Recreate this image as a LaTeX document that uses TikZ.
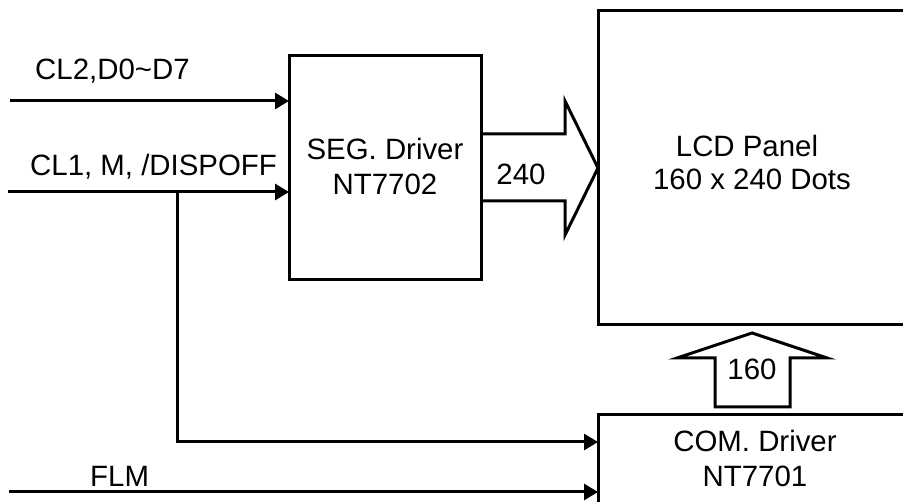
\documentclass[tikz,border=0pt]{standalone}
\usepackage{fontspec}
\setmainfont{Liberation Sans}
\usetikzlibrary{arrows.meta}
\begin{document}
\begin{tikzpicture}[x=1pt,y=-1pt,
  lw/.style={line width=3pt},
  box/.style={draw,lw,rectangle,inner sep=0pt,outer sep=0pt},
  lbl/.style={font=\fontsize{29.4}{34}\selectfont,inner sep=0pt},
  sig/.style={lw,-{Triangle[length=14pt,width=16pt]}},
  fat/.style={lw,line join=miter}]
\useasboundingbox (0,0) rectangle (903,502);
\clip (0,0) rectangle (903,502);
% boxes
\node[box,minimum width=192pt,minimum height=224pt] (seg) at (385,168) {};
\node[box,minimum width=322pt,minimum height=314pt] (lcd) at (759,168) {};
\node[box,minimum width=322pt,minimum height=110pt] (com) at (759,470) {};
% box texts
\node[lbl,anchor=base] (segt1) at (385,160) {SEG. Driver};
\node[lbl,anchor=base] (segt2) at (385,195) {NT7702};
\node[lbl,anchor=base] (lcdt1) at (747,157) {LCD Panel};
\node[lbl,anchor=base] (lcdt2) at (752,190) {160 x 240 Dots};
\node[lbl,anchor=base] (comt1) at (755,452) {COM. Driver};
\node[lbl,anchor=base] (comt2) at (755,487) {NT7701};
% inputs
\coordinate (in1) at (10,101);
\coordinate (in2) at (8,192);
\coordinate (br) at (177,192);
\coordinate (brd) at (177,442);
\coordinate (in3) at (9,492);
\draw[sig] (in1) -- (in1 -| seg.west);
\draw[sig] (in2) -- (in2 -| seg.west);
\draw[sig] (br) -- (brd) -- (brd -| com.west);
\draw[sig] (in3) -- (in3 -| com.west);
\node[lbl,anchor=base west] (l1) at (35,80) {CL2,D0\char`\~D7};
\node[lbl,anchor=base west] (l2) at (30,176) {CL1, M, /DISPOFF};
\node[lbl,anchor=base west] (l3) at (90,487) {FLM};
% block arrow 240
\draw[fat] (481,134) -- (565,134) -- (565,101) -- (598,168) -- (565,235) -- (565,201) -- (481,201);
\node[lbl,anchor=base] (n240) at (521,185) {240};
% block arrow 160
\draw[fat] (715,407) -- (715,358) -- (677,358) -- (752,333) -- (827,358) -- (790,358) -- (790,407) -- cycle;
\node[lbl,anchor=base] (n160) at (752,380) {160};
\end{tikzpicture}
\end{document}
